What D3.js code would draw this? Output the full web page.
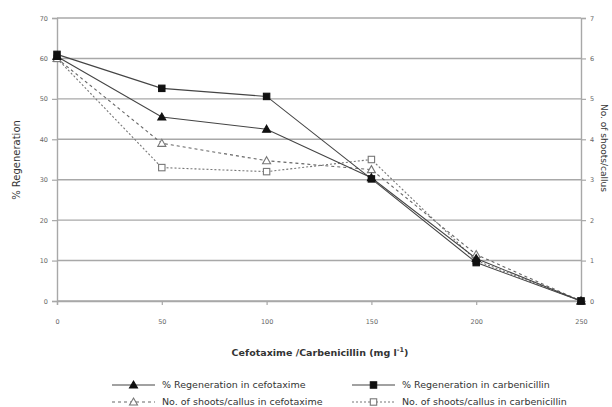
<!DOCTYPE html>
<html><head><meta charset="utf-8">
<script src="https://cdn.jsdelivr.net/npm/d3@7"></script>
<style>body{margin:0;background:#fff}svg{display:block;font-family:"DejaVu Sans",Verdana,sans-serif}</style>
</head><body>
<svg id="c" width="612" height="407"></svg>
<script>
const categories = [0, 50, 100, 150, 200, 250];
const leftTicks = [0, 10, 20, 30, 40, 50, 60, 70];
const rightTicks = [0, 1, 2, 3, 4, 5, 6, 7];
const regenCefotaxime = [60.5, 45.5, 42.5, 30.5, 10.5, 0];
const regenCarbenicillin = [61, 52.6, 50.6, 30.2, 9.5, 0];
const shootsCefotaxime = [6.0, 3.9, 3.47, 3.25, 1.15, 0];
const shootsCarbenicillin = [6.0, 3.3, 3.2, 3.5, 1.0, 0];
const seriesNames = ["% Regeneration in cefotaxime", "% Regeneration in carbenicillin",
  "No. of shoots/callus in cefotaxime", "No. of shoots/callus in carbenicillin"];

const svg = d3.select("#c");
const L = 57, R = 581, T = 18, B = 301;
const x = d3.scalePoint().domain(categories).range([L, R]);
const yL = d3.scaleLinear().domain([0, 70]).range([B, T]);
const yR = d3.scaleLinear().domain([0, 7]).range([B, T]);
const grid = "#a8a8a8", ink = "#333";

svg.append("g").selectAll("line").data(leftTicks).join("line")
  .attr("x1", L).attr("x2", R).attr("y1", d => yL(d)).attr("y2", d => yL(d))
  .attr("stroke", grid).attr("stroke-width", 1.4);

const axL = svg.append("g").attr("transform", `translate(${L},0)`)
  .call(d3.axisLeft(yL).tickValues(leftTicks).tickSize(5).tickPadding(4));
const axR = svg.append("g").attr("transform", `translate(${R},0)`)
  .call(d3.axisRight(yR).tickValues(rightTicks).tickFormat(d3.format("d")).tickSize(5).tickPadding(4));
const axB = svg.append("g").attr("transform", `translate(0,${B})`)
  .call(d3.axisBottom(x).tickSize(4).tickPadding(14));
[axL, axR, axB].forEach(a => {
  a.select(".domain").attr("stroke", grid).attr("stroke-width", 1.4);
  a.selectAll(".tick line").attr("stroke", grid).attr("stroke-width", 1.2);
  a.selectAll(".tick text").attr("fill", "#666").attr("font-size", 6.5).attr("font-family", "DejaVu Sans");
});

svg.append("text").attr("transform", "translate(20,160) rotate(-90)")
  .attr("text-anchor", "middle").attr("font-size", 10).attr("fill", ink).text("% Regeneration");
svg.append("text").attr("transform", "translate(601,104) rotate(90)")
  .attr("text-anchor", "start").attr("font-size", 9).attr("fill", ink).text("No. of shoots/callus");
const xt = svg.append("text").attr("x", 320).attr("y", 356).attr("text-anchor", "middle")
  .attr("font-size", 9.5).attr("font-weight", "bold").attr("fill", ink);
xt.append("tspan").text("Cefotaxime /Carbenicillin  (mg l");
xt.append("tspan").attr("dy", -4).attr("font-size", 6.5).text("-1");
xt.append("tspan").attr("dy", 4).text(")");

const series = [
  {vals: regenCefotaxime, y: yL, dash: null, marker: "tri", fill: "#111", stroke: "#444"},
  {vals: regenCarbenicillin, y: yL, dash: null, marker: "sq", fill: "#111", stroke: "#444"},
  {vals: shootsCefotaxime, y: yR, dash: "3,3", marker: "tri", fill: "#fff", stroke: "#666"},
  {vals: shootsCarbenicillin, y: yR, dash: "2,2", marker: "sq", fill: "#fff", stroke: "#777"}
];
function drawMarker(g, type, cx, cy, s) {
  if (type === "sq") {
    g.append("rect").attr("x", cx - 3.2).attr("y", cy - 3.2).attr("width", 6.4).attr("height", 6.4)
      .attr("fill", s.fill).attr("stroke", s.fill === "#fff" ? "#777" : "#111").attr("stroke-width", 1.1);
  } else {
    g.append("path").attr("d", `M${cx},${cy - 4}L${cx + 4},${cy + 3}L${cx - 4},${cy + 3}Z`)
      .attr("fill", s.fill).attr("stroke", s.fill === "#fff" ? "#777" : "#111").attr("stroke-width", 1.1);
  }
}
const lineG = svg.append("g");
[2, 3, 0, 1].forEach(i => {
  const s = series[i];
  const line = d3.line().x((d, j) => x(categories[j])).y(d => s.y(d));
  lineG.append("path").attr("d", line(s.vals)).attr("fill", "none")
    .attr("stroke", s.stroke).attr("stroke-width", 1.1).attr("stroke-dasharray", s.dash);
});
[2, 3, 0, 1].forEach(i => {
  const s = series[i];
  const g = svg.append("g");
  s.vals.forEach((v, j) => drawMarker(g, s.marker, x(categories[j]), s.y(v), s));
});

const legPos = [[112, 385], [352, 385], [112, 402], [352, 402]];
series.forEach((s, i) => {
  const [lx, ly] = legPos[i];
  const g = svg.append("g");
  g.append("line").attr("x1", lx).attr("x2", lx + 43).attr("y1", ly).attr("y2", ly)
    .attr("stroke", s.stroke).attr("stroke-width", 1.1).attr("stroke-dasharray", s.dash);
  drawMarker(g, s.marker, lx + 21.5, ly, s);
  g.append("text").attr("x", lx + 50).attr("y", ly + 3).attr("font-size", 9.5).attr("fill", ink)
    .text(seriesNames[i]);
});
</script>
</body></html>
